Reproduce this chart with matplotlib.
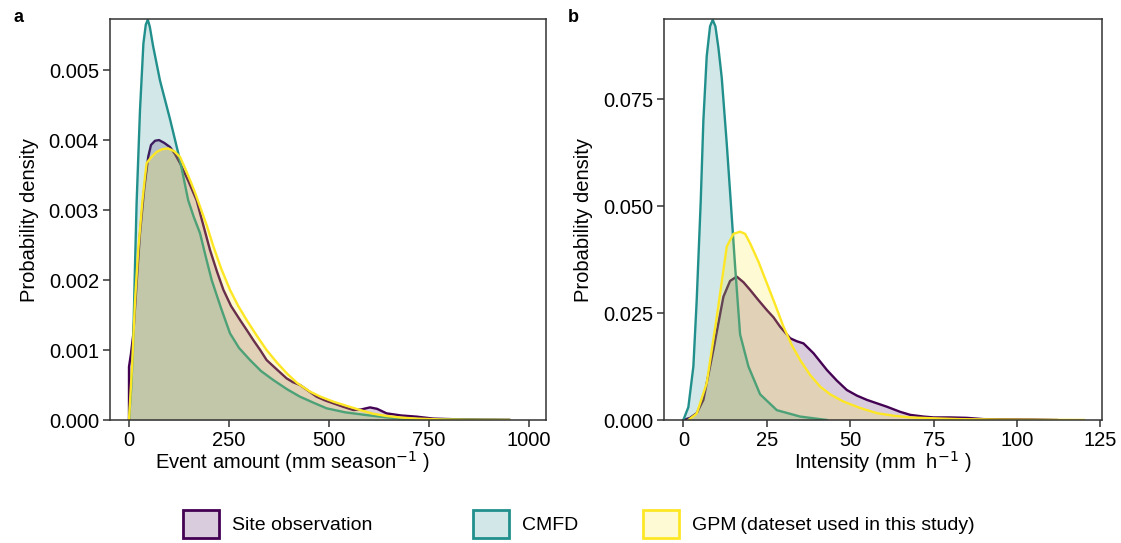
import matplotlib
matplotlib.use("Agg")
import matplotlib.pyplot as plt
from matplotlib.patches import Patch

plt.rcParams['font.family'] = ['Liberation Sans', 'DejaVu Sans']

# ---------------- data ----------------
series_names = ["Site observation", "CMFD", "GPM\u2009(dateset used in this study)"]
line_colors = ["#440154", "#21908C", "#FDE725"]

# Panel a: event amount (mm season^-1), density
a_site_x = [0, 0, 5, 11, 19, 27.5, 38, 48, 55, 65, 75, 88, 102.5, 115, 127.5, 148, 169, 185,
            202.5, 220, 236, 255, 277.5, 295, 311, 328, 344, 370, 394, 410, 427.5, 450, 469,
            490, 511, 535, 561, 580, 602.5, 620, 644, 680, 719, 761, 820, 880, 950]
a_site_y = [0, 0.76, 0.95, 1.24, 1.95, 2.67, 3.3, 3.76, 3.93, 3.99, 4.0, 3.96, 3.9, 3.8, 3.67,
            3.42, 3.14, 2.8, 2.43, 2.12, 1.86, 1.63, 1.43, 1.28, 1.14, 1.0, 0.857, 0.72, 0.595,
            0.54, 0.50, 0.41, 0.333, 0.28, 0.238, 0.19, 0.143, 0.15, 0.18, 0.16, 0.095, 0.065,
            0.048, 0.02, 0.01, 0.005, 0.002]
a_cmfd_x = [0, 5, 10, 15, 19, 27.5, 36, 42, 47, 52, 60, 77.5, 102.5, 127.5, 148, 162, 177.5,
            192, 206.7, 230, 252.5, 275, 302.5, 330, 360.8, 395, 427.5, 460, 494, 540, 594,
            640, 677, 750, 850, 950]
a_cmfd_y = [0, 0.4, 1.0, 2.2, 3.1, 4.43, 5.38, 5.65, 5.72, 5.62, 5.35, 4.85, 4.3, 3.71, 3.14,
            2.9, 2.67, 2.33, 2.0, 1.6, 1.238, 1.03, 0.857, 0.7, 0.571, 0.44, 0.333, 0.25,
            0.167, 0.11, 0.07, 0.04, 0.02, 0.01, 0.004, 0.001]
a_gpm_x = [0, 8, 15, 23, 33, 40, 44, 55, 69, 83, 98, 113, 127.5, 140, 152.5, 165, 177.5, 195,
           211, 230, 252.5, 273, 294, 320, 344, 370, 394, 420, 452.5, 480, 511, 545, 577.5,
           610, 644, 680, 719, 780, 850, 950]
a_gpm_y = [0, 0.8, 1.7, 2.43, 3.1, 3.48, 3.67, 3.75, 3.83, 3.87, 3.88, 3.84, 3.76, 3.6, 3.43,
           3.25, 3.05, 2.77, 2.48, 2.17, 1.86, 1.63, 1.43, 1.2, 1.0, 0.82, 0.67, 0.53, 0.405,
           0.33, 0.262, 0.2, 0.143, 0.09, 0.057, 0.035, 0.02, 0.008, 0.003, 0.001]
a_scale = 1e-3

# Panel b: intensity (mm h^-1), density
b_site_x = [0, 2, 4, 6, 9, 12, 14, 16, 18, 20, 22.5, 25, 27, 29, 32, 34, 36, 39, 43, 46, 49,
            52, 55, 58, 61, 65, 68, 72, 75, 80, 85, 90, 98, 105, 112]
b_site_y = [0, 0.0005, 0.0016, 0.0047, 0.0164, 0.0288, 0.0325, 0.0335, 0.0322, 0.0304, 0.028,
            0.0257, 0.024, 0.0218, 0.0191, 0.0184, 0.0179, 0.0156, 0.0117, 0.0092, 0.0070,
            0.0057, 0.0047, 0.0039, 0.0031, 0.0019, 0.0012, 0.0008, 0.0006, 0.0006, 0.0005,
            0.0002, 0.00015, 0.0001, 0]
b_cmfd_x = [0, 1.5, 3, 4, 5.2, 6, 7, 8, 8.8, 9.6, 10.5, 11.5, 13, 14.2, 15.5, 17, 19.5, 23,
            28, 35, 43]
b_cmfd_y = [0, 0.003, 0.0125, 0.028, 0.051, 0.070, 0.085, 0.092, 0.0935, 0.092, 0.087, 0.080,
            0.0646, 0.051, 0.036, 0.020, 0.0125, 0.006, 0.0023, 0.0008, 0]
b_gpm_x = [1.5, 4, 7, 10, 13, 15, 17, 18.5, 20, 22.5, 25, 27.5, 30, 32.5, 35, 38, 41, 44, 48,
           53, 58, 63, 68, 75, 83, 95, 110, 120]
b_gpm_y = [0, 0.0015, 0.0086, 0.024, 0.0405, 0.0435, 0.044, 0.0435, 0.0413, 0.037, 0.032,
           0.027, 0.0218, 0.0175, 0.014, 0.0105, 0.0078, 0.006, 0.0043, 0.0028, 0.0016, 0.001,
           0.0006, 0.0004, 0.0002, 0.0001, 0.00003, 0]

a_xticks = [0, 250, 500, 750, 1000]
a_yticks = [0.000, 0.001, 0.002, 0.003, 0.004, 0.005]
a_ytick_labels = ["0.000", "0.001", "0.002", "0.003", "0.004", "0.005"]
b_xticks = [0, 25, 50, 75, 100, 125]
b_yticks = [0.000, 0.025, 0.050, 0.075]
b_ytick_labels = ["0.000", "0.025", "0.050", "0.075"]

# ---------------- figure ----------------
W, H = 1121, 543
fig = plt.figure(figsize=(W / 100, H / 100), dpi=100)

def fr(x0, y0, x1, y1):
    return [x0 / W, 1 - y1 / H, (x1 - x0) / W, (y1 - y0) / H]

ax_a = fig.add_axes(fr(110, 19, 546, 420))
ax_b = fig.add_axes(fr(664, 19, 1101.5, 420))

edge = "#333333"
FS = 14.5

def draw(ax, xs, ys):
    for i, (x, y) in enumerate(zip(xs, ys)):
        ax.fill_between(x, 0, y, color=line_colors[i], alpha=0.2, lw=0, zorder=2 + 2 * i)
        ax.plot(x, y, color=line_colors[i], lw=1.7, zorder=3 + 2 * i, solid_joinstyle='round')

draw(ax_a, [a_site_x, a_cmfd_x, a_gpm_x],
     [[v * a_scale for v in a_site_y], [v * a_scale for v in a_cmfd_y],
      [v * a_scale for v in a_gpm_y]])
draw(ax_b, [b_site_x, b_cmfd_x, b_gpm_x], [b_site_y, b_cmfd_y, b_gpm_y])

ax_a.set_xlim(-47.5, 1042.5)
ax_a.set_ylim(0, 0.00573)
ax_a.set_xticks(a_xticks)
ax_a.set_yticks(a_yticks)
ax_a.set_yticklabels(a_ytick_labels)
ax_a.set_xlabel("Event amount (mm season$^{-1}$ )", fontsize=FS)
ax_a.xaxis.set_label_coords((292 - 110) / 436, -0.073, transform=ax_a.transAxes)
ax_a.xaxis.label.set_va('top')

ax_b.set_xlim(-5.8, 125.3)
ax_b.set_ylim(0, 0.0937)
ax_b.set_xticks(b_xticks)
ax_b.set_yticks(b_yticks)
ax_b.set_yticklabels(b_ytick_labels)
ax_b.set_xlabel("Intensity (mm  h$^{-1}$ )", fontsize=FS)
ax_b.xaxis.set_label_coords(0.5, -0.073, transform=ax_b.transAxes)
ax_b.xaxis.label.set_va('top')

for ax in (ax_a, ax_b):
    ax.set_ylabel("Probability density", fontsize=FS, labelpad=7)
    for s in ax.spines.values():
        s.set_color(edge)
        s.set_linewidth(1.1)
        s.set_zorder(20)
    ax.tick_params(direction='out', length=5, width=1.1, color=edge,
                   labelsize=FS, labelcolor='black', pad=3)

fig.text(19 / W, 1 - 17 / H, "a", fontsize=13, fontweight='bold', va='center', ha='center')
fig.text(573.5 / W, 1 - 17.5 / H, "b", fontsize=13, fontweight='bold', va='center', ha='center')

# legend (three keys placed at their positions)
key_left = [183, 473, 643]
for i in range(3):
    h = Patch(facecolor=line_colors[i] + "33", edgecolor=line_colors[i], linewidth=2)
    fig.legend(handles=[h], labels=[series_names[i]], loc='center left',
               bbox_to_anchor=(key_left[i] / W, 1 - 524 / H), frameon=False,
               fontsize=14, handlelength=1.85, handleheight=1.8, handletextpad=0.65,
               borderpad=0, borderaxespad=0)

fig.savefig("out.png", dpi=100)
